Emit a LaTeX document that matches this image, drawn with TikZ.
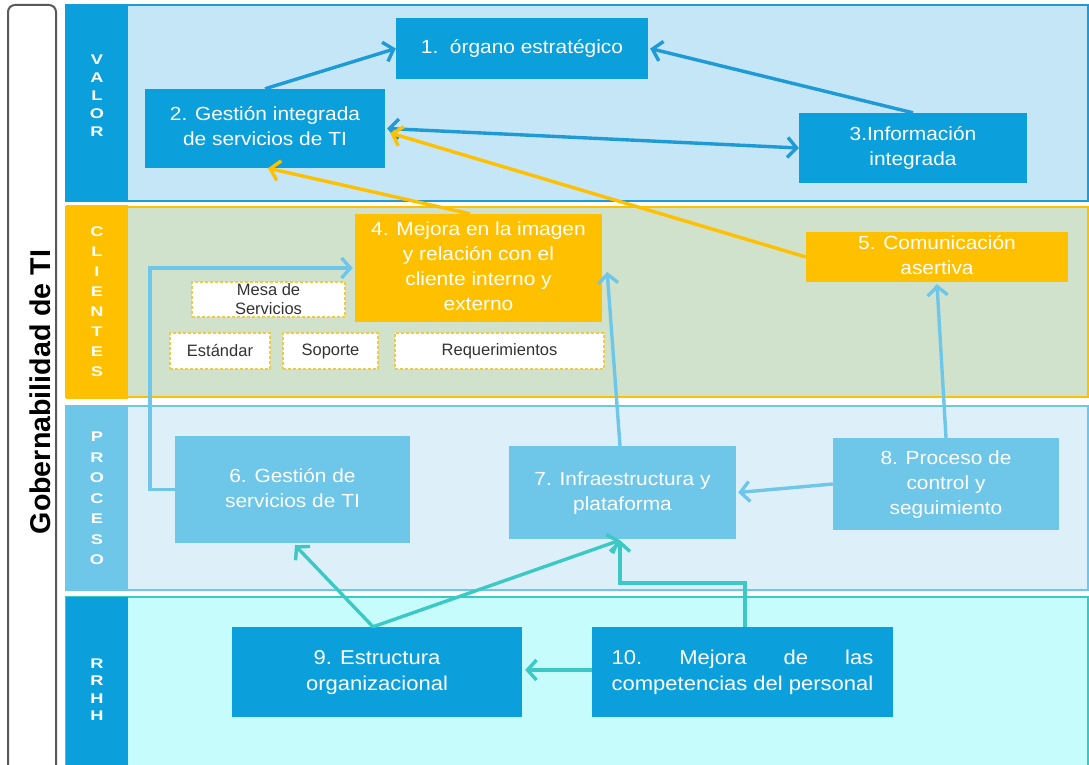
\documentclass[tikz,border=0pt]{standalone}
\usepackage{fontspec}
\setmainfont{Liberation Sans}
\usepackage{graphicx}
\usetikzlibrary{arrows.meta}
\definecolor{dblue}{HTML}{0BA0DC}
\definecolor{lblue}{HTML}{6EC6E8}
\definecolor{orng}{HTML}{FFC000}
\definecolor{valbg}{HTML}{C4E6F7}
\definecolor{clibg}{HTML}{D0E2CC}
\definecolor{probg}{HTML}{DDF0FA}
\definecolor{rrbg}{HTML}{C6FCFC}
\definecolor{tealarr}{HTML}{3CC8C4}
\definecolor{arrblue}{HTML}{1E9AD6}
\definecolor{dashc}{HTML}{F5C842}
\newcommand{\bt}[1]{\scalebox{1.1}[1]{\begin{tabular}{@{}c@{}}#1\end{tabular}}}
\newcommand{\lt}[1]{\scalebox{1.3}[1]{\begin{tabular}{@{}c@{}}#1\end{tabular}}}
\begin{document}
\begin{tikzpicture}[x=1pt,y=-1pt,
  box/.style={inner sep=0pt, text=white, font=\fontsize{19}{25}\selectfont},
  dbox/.style={box, fill=dblue},
  obox/.style={box, fill=orng},
  lbox/.style={box, fill=lblue},
  rbox/.style={box, fill=dblue, font=\fontsize{20}{26}\selectfont},
  sbox/.style={draw=dashc, dash pattern=on 3pt off 2pt, fill=white, line width=1.3pt, text=black!80,
    font=\fontsize{16.5}{19}\selectfont, inner sep=0pt, align=center},
  bandlbl/.style={text=white, inner sep=0pt},
  arr/.style={line width=3.4pt, -{Straight Barb[length=9pt,width=20pt]}},
  dbl/.style={line width=3.4pt, {Straight Barb[length=9pt,width=20pt]}-{Straight Barb[length=9pt,width=20pt]}}
]
\useasboundingbox (0,0) rectangle (1089,765);
\fill[white] (0,0) rectangle (1089,765);

% left title box
\draw[line width=2pt, draw=black!65, fill=white, rounded corners=7pt] (8,775) -- (8,5) -- (56,5) -- (56,775);
\node[rotate=90, font=\bfseries\fontsize{28.6}{30}\selectfont] (title) at (40,392) {Gobernabilidad de TI};

% bands
\draw[fill=valbg, draw=arrblue, line width=2pt] (66,5) rectangle (1088,201);
\fill[dblue] (66,5) rectangle (128,201);
\draw[fill=clibg, draw=orng, line width=2pt] (66,207) rectangle (1088,397);
\fill[orng] (66,205) rectangle (128,399);
\draw[fill=probg, draw=lblue, line width=2pt] (66,406) rectangle (1088,590);
\fill[lblue] (66,405) rectangle (128,591);
\draw[fill=rrbg, draw=tealarr, line width=2pt] (66,597) rectangle (1088,775);
\fill[dblue] (66,597) rectangle (128,765);

\node[bandlbl, font=\bfseries\fontsize{14}{18}\selectfont] (lv) at (97,97) {\lt{V\\A\\L\\O\\R}};
\node[bandlbl, font=\bfseries\fontsize{14}{20}\selectfont] (lc) at (97,302) {\lt{C\\L\\I\\E\\N\\T\\E\\S}};
\node[bandlbl, font=\bfseries\fontsize{14}{20.5}\selectfont] (lp) at (97,499) {\lt{P\\R\\O\\C\\E\\S\\O}};
\node[bandlbl, font=\bfseries\fontsize{14}{17.5}\selectfont] (lr) at (97,691) {\lt{R\\R\\H\\H}};

% boxes
\node[dbox, minimum width=252pt, minimum height=61pt] (b1) at (522,48.5) {\bt{1.\ \ órgano estratégico}};
\node[dbox, minimum width=240pt, minimum height=79pt] (b2) at (265,128.5) {\bt{2. Gestión integrada\\de servicios de TI}};
\node[dbox, minimum width=228pt, minimum height=70pt] (b3) at (913,148) {\bt{3.Información\\integrada}};
\node[obox, minimum width=247pt, minimum height=108pt] (b4) at (478.5,268) {\bt{4. Mejora en la imagen\\y relación con el\\cliente interno y\\externo}};
\node[obox, minimum width=262pt, minimum height=50pt] (b5) at (937,257) {\bt{5. Comunicación\\asertiva}};
\node[sbox, minimum width=153pt, minimum height=35pt] (mesa) at (268.5,299.5) {Mesa de\\Servicios};
\node[sbox, minimum width=100pt, minimum height=36pt] (est) at (220,351) {Estándar};
\node[sbox, minimum width=95pt, minimum height=36pt] (sop) at (330.5,351) {Soporte};
\node[sbox, minimum width=209pt, minimum height=36pt] (req) at (499.5,351) {Requerimientos};
\node[lbox, minimum width=235pt, minimum height=107pt] (b6) at (292.5,489.5) {\bt{6. Gestión de\\servicios de TI}};
\node[lbox, minimum width=227pt, minimum height=93pt] (b7) at (622.5,492.5) {\bt{7. Infraestructura y\\plataforma}};
\node[lbox, minimum width=226pt, minimum height=92pt] (b8) at (946,484) {\bt{8. Proceso de\\control y\\seguimiento}};
\node[rbox, minimum width=290pt, minimum height=90pt] (b9) at (377,672) {\bt{9. Estructura\\organizacional}};
\node[rbox, minimum width=301pt, minimum height=90pt] (b10) at (742.5,672) {\scalebox{1.1}[1]{\begin{tabular}{@{}l@{}}10.\hfill Mejora\hfill de\hfill las\\competencias del personal\end{tabular}}};

% VALOR arrows
\draw[arr, arrblue] (b2.north) -- (b1.west);
\draw[arr, arrblue] (b3.north) -- ([xshift=2pt]b1.east);
\draw[dbl, arrblue] ([xshift=2pt]b2.east) -- (b3.west);
% orange arrows
\draw[arr, orng] ([xshift=-8.5pt]b4.north) -- ([xshift=3pt]b2.south);
\draw[arr, orng] (b5.west) -- ([xshift=5pt,yshift=-4.5pt]b2.east);
% process arrows
\draw[arr, lblue] (b6.west) -- ++(-25,0) |- ([xshift=-2pt]b4.west);
\draw[arr, lblue] ([xshift=-2.5pt]b7.north) -- ([xshift=5pt,yshift=-4pt]b4.east);
\draw[arr, lblue] (b8.north) -- ([yshift=-2pt]b5.south);
\draw[arr, lblue] (b8.west) -- ([xshift=2pt]b7.east);
% RRHH arrows
\draw[arr, tealarr] ([xshift=-4pt]b9.north) -- ([xshift=2.5pt,yshift=-2pt]b6.south);
\draw[arr, tealarr] ([xshift=-4pt]b9.north) -- ([xshift=-2.5pt,yshift=-1pt]b7.south);
\draw[arr, tealarr] ([xshift=2.5pt]b10.north) -- ++(0,-44) -| ([xshift=-2.5pt,yshift=-1pt]b7.south);
\draw[arr, tealarr] ([yshift=2pt]b10.west) -- ([xshift=3pt,yshift=2pt]b9.east);
\end{tikzpicture}
\end{document}
